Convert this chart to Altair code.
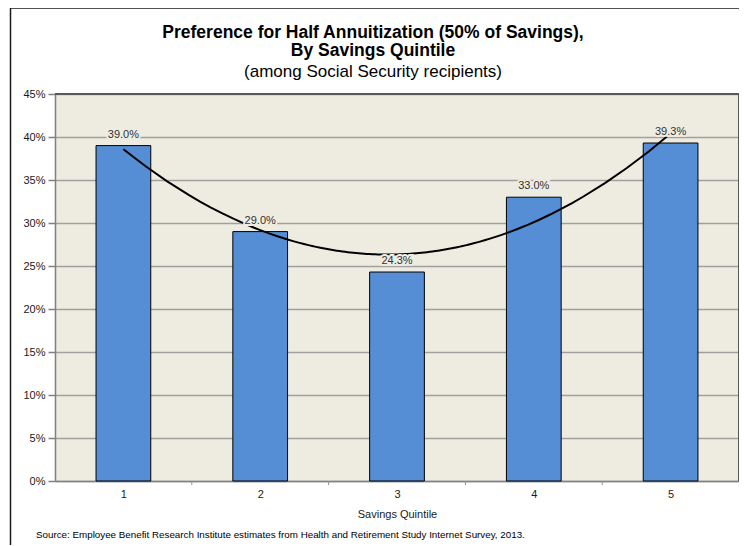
import altair as alt
import pandas as pd

# ---- data ----
quintiles = [1, 2, 3, 4, 5]
shares = [0.390, 0.290, 0.243, 0.330, 0.393]
y_ticks = [0, 0.05, 0.10, 0.15, 0.20, 0.25, 0.30, 0.35, 0.40, 0.45]
boundaries = [1.5, 2.5, 3.5, 4.5]

title_lines = ["Preference for Half Annuitization (50% of Savings),", "By Savings Quintile"]
subtitle_text = "(among Social Security recipients)"
x_title = "Savings Quintile"
source_text = ("Source: Employee Benefit Research Institute estimates from Health and "
               "Retirement Study Internet Survey, 2013.")

df = pd.DataFrame({"q": quintiles, "v": shares})
bdf = pd.DataFrame({"b": boundaries})
one = alt.Data(values=[{}])

W, H = 684, 387
FONT = "Liberation Sans"
TXT = "#1a1a1a"
xscale = alt.Scale(domain=[0.5, 5.5], nice=False, zero=False)
yscale = alt.Scale(domain=[0, 0.45], nice=False)

xaxis = alt.Axis(values=quintiles, format="d", ticks=False, grid=False,
                 domainColor="#808080", domainWidth=1.5,
                 labelFont=FONT, labelFontSize=11, labelColor=TXT,
                 labelPadding=7, title=x_title, titleFont=FONT,
                 titleFontSize=11, titleFontWeight="normal",
                 titleColor=TXT, titlePadding=9)
yaxis = alt.Axis(values=y_ticks, format=".0%", grid=True,
                 gridColor="#A0A0A0", gridWidth=1.5,
                 domainColor="#808080", domainWidth=1.5,
                 tickColor="#808080", tickSize=7, tickWidth=1.5,
                 labelFont=FONT, labelFontSize=11, labelColor=TXT,
                 labelPadding=3, title=None)

base = alt.Chart(df)

bars = base.transform_calculate(
    lo="datum.q - 0.2", hi="datum.q + 0.2"
).mark_rect(color="#558ED5", stroke="black", strokeWidth=1).encode(
    x=alt.X("lo:Q", scale=xscale, axis=xaxis),
    x2="hi:Q",
    y=alt.Y("v:Q", scale=yscale, axis=yaxis),
    y2=alt.datum(0),
)

trend = base.transform_regression(
    "q", "v", method="poly", order=2, extent=[1, 5]
).mark_line(color="black", strokeWidth=2).encode(
    x=alt.X("q:Q", scale=xscale, axis=xaxis),
    y=alt.Y("v:Q", scale=yscale, axis=yaxis),
)

halo = base.mark_text(font=FONT, fontSize=11, baseline="middle", dy=-11,
                      color="#EEECE1", stroke="#EEECE1", strokeWidth=4).encode(
    x=alt.X("q:Q", scale=xscale, axis=xaxis),
    y=alt.Y("v:Q", scale=yscale, axis=yaxis),
    text=alt.Text("v:Q", format=".1%"),
)
labels = base.mark_text(font=FONT, fontSize=11, baseline="middle", dy=-11,
                        color="#333333").encode(
    x=alt.X("q:Q", scale=xscale, axis=xaxis),
    y=alt.Y("v:Q", scale=yscale, axis=yaxis),
    text=alt.Text("v:Q", format=".1%"),
)

bticks = alt.Chart(bdf).mark_rule(color="#909090", strokeWidth=1).encode(
    x=alt.X("b:Q", scale=xscale, axis=xaxis),
    y=alt.value(H), y2=alt.value(H + 4),
)

top_border = alt.Chart(one).mark_rule(color="#595959", strokeWidth=2).encode(
    x=alt.value(0), x2=alt.value(W), y=alt.value(0))
right_border = alt.Chart(one).mark_rule(color="#595959", strokeWidth=2).encode(
    x=alt.value(W), y=alt.value(0), y2=alt.value(H))

outer = alt.Chart(one).mark_rect(fill="transparent", stroke="#1a1a1a",
                                  strokeWidth=1.5).encode(
    x=alt.value(-44.5), x2=alt.value(W + 40),
    y=alt.value(-86), y2=alt.value(H + 80))

def txt(s, x, y, size, weight="normal", align="center", line_height=None):
    kw = dict(font=FONT, fontSize=size, fontWeight=weight, align=align,
              baseline="middle", color="black")
    if line_height:
        kw["lineHeight"] = line_height
    return alt.Chart(one).mark_text(**kw).encode(
        x=alt.value(x), y=alt.value(y), text=alt.value(s))

title = txt(title_lines, 318, -61, 17.5, "bold", line_height=18)
subtitle = txt(subtitle_text, 318, -22, 17)
source = txt(source_text, -19, 441, 9.8, align="left")

chart = alt.layer(
    outer, bars, trend, halo, labels, bticks, top_border, right_border,
    title, subtitle, source
).properties(
    width=W, height=H,
    autosize=alt.AutoSizeParams(type="none"),
    padding={"left": 47, "top": 86, "right": 0, "bottom": 64},
    background="white",
).configure_view(
    fill="#EEECE1", stroke=None
)

chart.save("out.html", embed_options={"renderer": "svg", "actions": False})
